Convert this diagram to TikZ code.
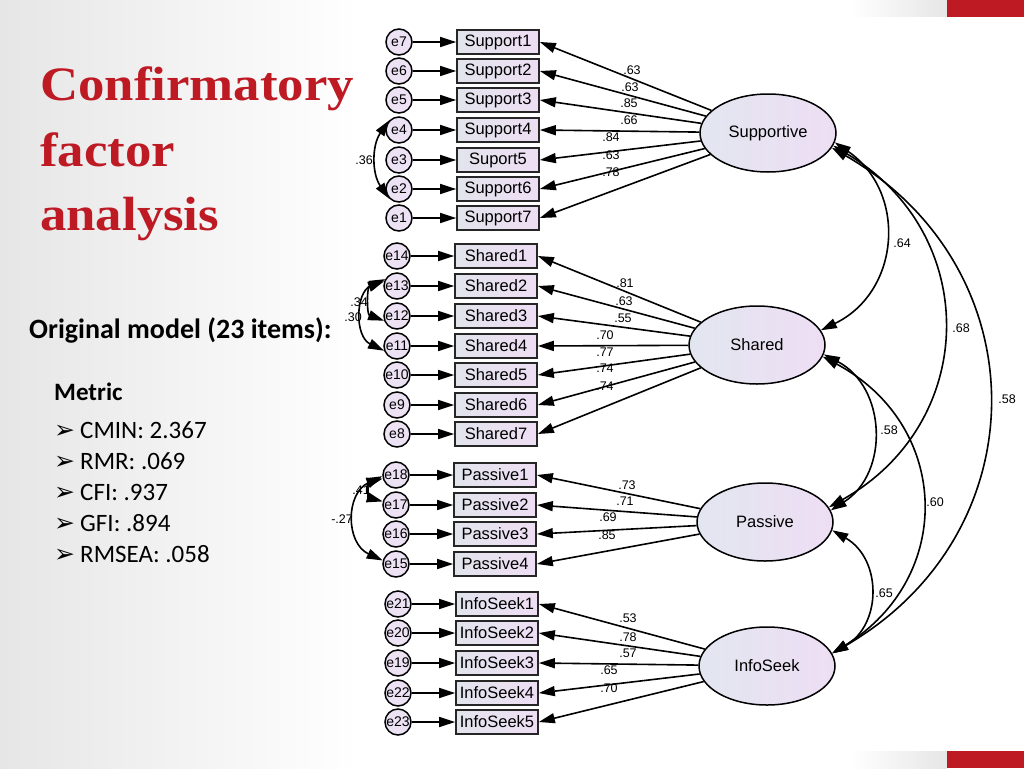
\documentclass[tikz,border=0pt]{standalone}
\usepackage{fontspec}
\usepackage{xcolor}
\usetikzlibrary{shapes,
	arrows.meta}
\setmainfont{Carlito}
\newfontfamily\titlefont[FakeStretch=1.1]{Liberation Serif}
\newfontfamily\amosfont{Liberation Sans}
\newfontfamily\symfont{DejaVu Sans}
\definecolor{titlered}{RGB}{190,26,36}
\definecolor{slidegray}{RGB}{230,230,230}
\definecolor{itemleft}{RGB}{226,228,236}
\definecolor{itemright}{RGB}{238,222,244}
\definecolor{latleft}{RGB}{226,230,240}
\definecolor{latright}{RGB}{238,222,244}
\definecolor{errfill}{RGB}{236,226,244}

\begin{document}
\begin{tikzpicture}[x=1pt, y=1pt,
	err/.style={draw, circle, fill=errfill, minimum size=26pt, inner sep=0pt, line width=1.5pt, font=\amosfont\fontsize{14}{14}\selectfont},
	item/.style={draw=black!85, rectangle, left color=itemleft, right color=itemright, minimum width=82pt, minimum height=24pt, inner sep=0pt, line width=1.7pt, font=\amosfont\fontsize{16.5}{16.5}\selectfont},
	latent/.style={draw, ellipse, left color=latleft, right color=latright, minimum width=136pt, minimum height=78pt, inner sep=0pt, line width=1.5pt, font=\amosfont\fontsize{16.5}{16.5}\selectfont},
	load/.style={-{Triangle[length=16pt,width=10pt]}, line width=1.6pt},
	cov/.style={{Triangle[length=16pt,width=10pt]}-{Triangle[length=16pt,width=10pt]}, line width=1.6pt},
	est/.style={inner sep=0pt, font=\amosfont\fontsize{12.5}{12.5}\selectfont},
	slidetext/.style={anchor=base west, inner sep=0pt},
	bulletitem/.style={slidetext, font=\fontsize{25}{25}\selectfont}]
\useasboundingbox (0,0) rectangle (1024,-768);
% slide background
\fill[white] (0,0) rectangle (1024,-768);
\shade[left color=slidegray, right color=white] (0,0) rectangle (360,-768);
\shade[left color=white, right color=slidegray] (850,0) rectangle (947,-17);
\fill[titlered] (947,0) rectangle (1024,-17);
\shade[left color=white, right color=slidegray] (850,-751) rectangle (947,-768);
\fill[titlered] (947,-751) rectangle (1024,-768);

% left column
\node (title1) [slidetext, text=titlered, font=\titlefont\bfseries\fontsize{48}{48}\selectfont] at (40,-100) {Confirmatory};
\node (title2) [slidetext, text=titlered, font=\titlefont\bfseries\fontsize{48}{48}\selectfont] at (40,-166) {factor};
\node (title3) [slidetext, text=titlered, font=\titlefont\bfseries\fontsize{48}{48}\selectfont] at (40,-230) {analysis};
\node (original) [slidetext, font=\bfseries\fontsize{28}{28}\selectfont] at (29,-338) {Original model (23 items):};
\node (metric) [slidetext, font=\bfseries\fontsize{25}{25}\selectfont] at (54,-400) {Metric};
\node (cmin) [bulletitem] at (54,-438) {\makebox[26pt][l]{\symfont\fontsize{25}{25}\selectfont ➢}CMIN: 2.367};
\node (rmr) [bulletitem] at (54,-469) {\makebox[26pt][l]{\symfont\fontsize{25}{25}\selectfont ➢}RMR: .069};
\node (cfi) [bulletitem] at (54,-500) {\makebox[26pt][l]{\symfont\fontsize{25}{25}\selectfont ➢}CFI: .937};
\node (gfi) [bulletitem] at (54,-531) {\makebox[26pt][l]{\symfont\fontsize{25}{25}\selectfont ➢}GFI: .894};
\node (rmsea) [bulletitem] at (54,-562) {\makebox[26pt][l]{\symfont\fontsize{25}{25}\selectfont ➢}RMSEA: .058};

% latent factors
\node (Supportive) [latent] at (768,-133) {Supportive};
\node (Shared) [latent] at (757,-345) {Shared};
\node (Passive) [latent] at (765,-522) {Passive};
\node (InfoSeek) [latent] at (767,-666) {InfoSeek};

% Supportive items
\node (e7) [err] at (399,-42) {e7};
\node (e6) [err] at (399,-71) {e6};
\node (e5) [err] at (399,-100) {e5};
\node (e4) [err] at (399,-130) {e4};
\node (e3) [err] at (399,-160) {e3};
\node (e2) [err] at (399,-189) {e2};
\node (e1) [err] at (399,-218) {e1};
\node (Support1) [item] at (498,-42) {Support1};
\node (Support2) [item] at (498,-71) {Support2};
\node (Support3) [item] at (498,-100) {Support3};
\node (Support4) [item] at (498,-130) {Support4};
\node (Support5) [item] at (498,-160) {Suport5};
\node (Support6) [item] at (498,-189) {Support6};
\node (Support7) [item] at (498,-218) {Support7};

% Shared items
\node (e14) [err] at (397,-256) {e14};
\node (e13) [err] at (397,-286) {e13};
\node (e12) [err] at (397,-316) {e12};
\node (e11) [err] at (397,-346) {e11};
\node (e10) [err] at (397,-375) {e10};
\node (e9) [err] at (397,-405) {e9};
\node (e8) [err] at (397,-434) {e8};
\node (Shared1) [item] at (496,-256) {Shared1};
\node (Shared2) [item] at (496,-286) {Shared2};
\node (Shared3) [item] at (496,-316) {Shared3};
\node (Shared4) [item] at (496,-346) {Shared4};
\node (Shared5) [item] at (496,-375) {Shared5};
\node (Shared6) [item] at (496,-405) {Shared6};
\node (Shared7) [item] at (496,-434) {Shared7};

% Passive items
\node (e18) [err] at (396,-475) {e18};
\node (e17) [err] at (396,-505) {e17};
\node (e16) [err] at (396,-534) {e16};
\node (e15) [err] at (396,-564) {e15};
\node (Passive1) [item] at (495,-475) {Passive1};
\node (Passive2) [item] at (495,-505) {Passive2};
\node (Passive3) [item] at (495,-534) {Passive3};
\node (Passive4) [item] at (495,-564) {Passive4};

% InfoSeek items
\node (e21) [err] at (398,-604) {e21};
\node (e20) [err] at (398,-633) {e20};
\node (e19) [err] at (398,-663) {e19};
\node (e22) [err] at (398,-693) {e22};
\node (e23) [err] at (398,-722) {e23};
\node (InfoSeek1) [item] at (497,-604) {InfoSeek1};
\node (InfoSeek2) [item] at (497,-633) {InfoSeek2};
\node (InfoSeek3) [item] at (497,-663) {InfoSeek3};
\node (InfoSeek4) [item] at (497,-693) {InfoSeek4};
\node (InfoSeek5) [item] at (497,-722) {InfoSeek5};

% error terms
\draw[load] (e7) -- (Support1);
\draw[load] (e6) -- (Support2);
\draw[load] (e5) -- (Support3);
\draw[load] (e4) -- (Support4);
\draw[load] (e3) -- (Support5);
\draw[load] (e2) -- (Support6);
\draw[load] (e1) -- (Support7);
\draw[load] (e14) -- (Shared1);
\draw[load] (e13) -- (Shared2);
\draw[load] (e12) -- (Shared3);
\draw[load] (e11) -- (Shared4);
\draw[load] (e10) -- (Shared5);
\draw[load] (e9) -- (Shared6);
\draw[load] (e8) -- (Shared7);
\draw[load] (e18) -- (Passive1);
\draw[load] (e17) -- (Passive2);
\draw[load] (e16) -- (Passive3);
\draw[load] (e15) -- (Passive4);
\draw[load] (e21) -- (InfoSeek1);
\draw[load] (e20) -- (InfoSeek2);
\draw[load] (e19) -- (InfoSeek3);
\draw[load] (e22) -- (InfoSeek4);
\draw[load] (e23) -- (InfoSeek5);

% loadings
\draw[load] (Supportive) -- (Support1.east);
\draw[load] (Supportive) -- (Support2.east);
\draw[load] (Supportive) -- (Support3.east);
\draw[load] (Supportive) -- (Support4.east);
\draw[load] (Supportive) -- (Support5.east);
\draw[load] (Supportive) -- (Support6.east);
\draw[load] (Supportive) -- (Support7.east);
\draw[load] (Shared) -- (Shared1.east);
\draw[load] (Shared) -- (Shared2.east);
\draw[load] (Shared) -- (Shared3.east);
\draw[load] (Shared) -- (Shared4.east);
\draw[load] (Shared) -- (Shared5.east);
\draw[load] (Shared) -- (Shared6.east);
\draw[load] (Shared) -- (Shared7.east);
\draw[load] (Passive) -- (Passive1.east);
\draw[load] (Passive) -- (Passive2.east);
\draw[load] (Passive) -- (Passive3.east);
\draw[load] (Passive) -- (Passive4.east);
\draw[load] (InfoSeek) -- (InfoSeek1.east);
\draw[load] (InfoSeek) -- (InfoSeek2.east);
\draw[load] (InfoSeek) -- (InfoSeek3.east);
\draw[load] (InfoSeek) -- (InfoSeek4.east);
\draw[load] (InfoSeek) -- (InfoSeek5.east);

\node (ldSupport1) [est] at (632,-70) {.63};
\node (ldSupport2) [est] at (630,-87) {.63};
\node (ldSupport3) [est] at (629,-103) {.85};
\node (ldSupport4) [est] at (629,-120) {.66};
\node (ldSupport5) [est] at (611,-137) {.84};
\node (ldSupport6) [est] at (611,-155) {.63};
\node (ldSupport7) [est] at (611,-172) {.78};
\node (ldShared1) [est] at (625,-283) {.81};
\node (ldShared2) [est] at (624,-301) {.63};
\node (ldShared3) [est] at (623,-318) {.55};
\node (ldShared4) [est] at (605,-335) {.70};
\node (ldShared5) [est] at (605,-352) {.77};
\node (ldShared6) [est] at (605,-368) {.74};
\node (ldShared7) [est] at (605,-386) {.74};
\node (ldPassive1) [est] at (627,-485) {.73};
\node (ldPassive2) [est] at (625,-501) {.71};
\node (ldPassive3) [est] at (608,-517) {.69};
\node (ldPassive4) [est] at (607,-535) {.85};
\node (ldInfoSeek1) [est] at (628,-618) {.53};
\node (ldInfoSeek2) [est] at (628,-637) {.78};
\node (ldInfoSeek3) [est] at (628,-653) {.57};
\node (ldInfoSeek4) [est] at (609,-670) {.65};
\node (ldInfoSeek5) [est] at (609,-688) {.70};

% correlated errors
\draw[cov] (e4.135) to[bend right=35] (e2.225);
\draw[cov] (e13.150) to[bend right=65, looseness=1.17] (e11.200);
\draw[cov] (e13.160) to[bend right=70, looseness=1.2] (e12.200);
\draw[cov] (e18.185) to[bend right=65, looseness=1.24] (e15.165);
\draw[cov] (e18.195) to[bend right=75, looseness=1.7] (e17.165);
\node (r36) [est, anchor=east] at (373,-160) {.36};
\node (r34) [est, anchor=east] at (368,-302) {.34};
\node (r30) [est, anchor=east] at (362,-317) {.30};
\node (r41) [est, anchor=east] at (370,-490) {.41};
\node (r27) [est, anchor=east] at (353,-519) {-.27};

% factor correlations
\draw[cov] (Supportive.-8) to[bend left=60, looseness=1.2] (Shared.13);
\draw[cov] (Supportive.-11) to[bend left=60, looseness=1.22] (Passive.13);
\draw[cov] (Supportive.-13) to[bend left=60, looseness=1.22] (InfoSeek.11);
\draw[cov] (Shared.-8) to[bend left=60, looseness=1.15] (Passive.10);
\draw[cov] (Shared.-10) to[bend left=60, looseness=1.25] (InfoSeek.11);
\draw[cov] (Passive.-7) to[bend left=60, looseness=1.2] (InfoSeek.11);
\node (c64) [est] at (902,-243) {.64};
\node (c68) [est] at (961,-328) {.68};
\node (c58a) [est] at (1007,-399) {.58};
\node (c58b) [est] at (889,-430) {.58};
\node (c60) [est] at (935,-502) {.60};
\node (c65) [est] at (884,-593) {.65};
\end{tikzpicture}
\end{document}
